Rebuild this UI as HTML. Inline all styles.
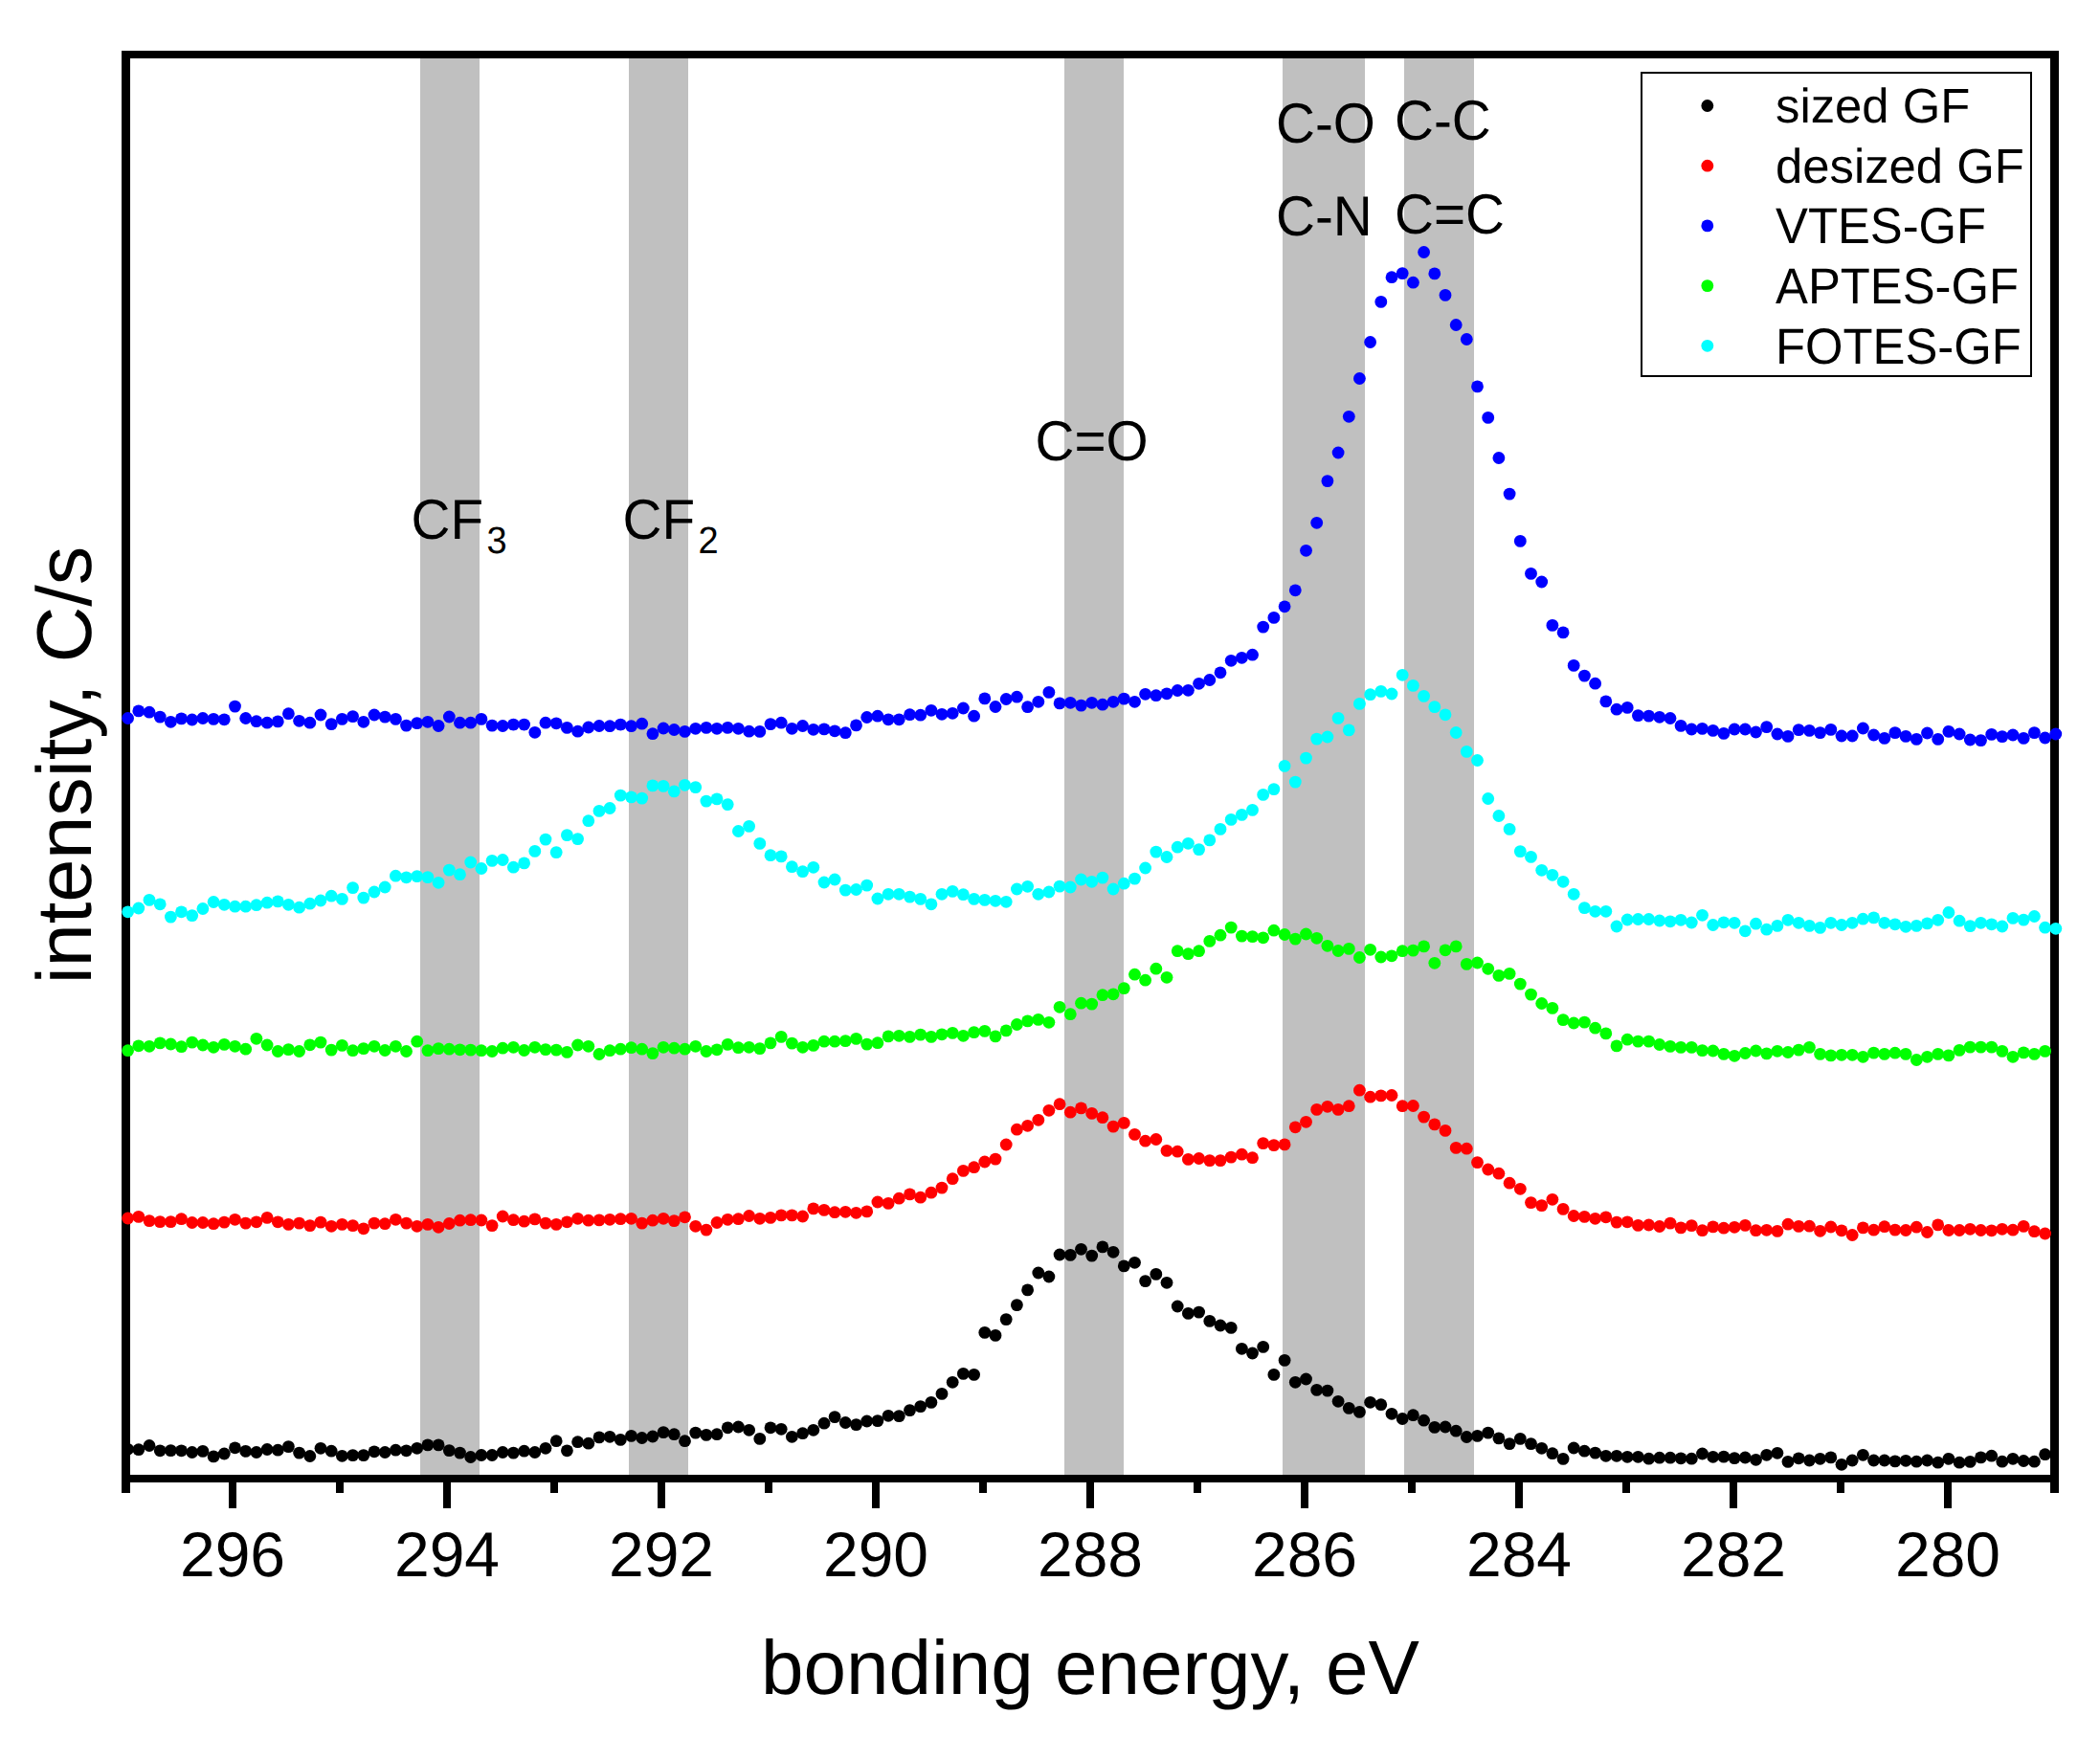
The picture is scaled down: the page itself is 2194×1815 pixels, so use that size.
<!DOCTYPE html>
<html><head><meta charset="utf-8"><title>XPS C1s spectra</title>
<style>html,body{margin:0;padding:0;background:#fff;}svg{display:block;}</style>
</head><body>
<svg width="2194" height="1815" viewBox="0 0 2194 1815" shape-rendering="crispEdges" text-rendering="geometricPrecision">
<rect x="0" y="0" width="2194" height="1815" fill="#ffffff"/>
<rect x="439" y="57" width="62" height="1488" fill="#c0c0c0"/>
<rect x="657" y="57" width="62" height="1488" fill="#c0c0c0"/>
<rect x="1112" y="57" width="62" height="1488" fill="#c0c0c0"/>
<rect x="1340" y="57" width="86" height="1488" fill="#c0c0c0"/>
<rect x="1467" y="57" width="73" height="1488" fill="#c0c0c0"/>
<g fill="#000000">
<rect x="127" y="53" width="2024" height="8"/>
<rect x="127" y="1541" width="2024" height="8"/>
<rect x="127" y="53" width="9" height="1507"/>
<rect x="2142" y="53" width="9" height="1507"/>
<rect x="239" y="1545" width="8" height="31"/>
<rect x="351" y="1545" width="8" height="15"/>
<rect x="463" y="1545" width="8" height="31"/>
<rect x="575" y="1545" width="8" height="15"/>
<rect x="687" y="1545" width="8" height="31"/>
<rect x="799" y="1545" width="8" height="15"/>
<rect x="911" y="1545" width="8" height="31"/>
<rect x="1023" y="1545" width="8" height="15"/>
<rect x="1135" y="1545" width="8" height="31"/>
<rect x="1247" y="1545" width="8" height="15"/>
<rect x="1359" y="1545" width="8" height="31"/>
<rect x="1471" y="1545" width="8" height="15"/>
<rect x="1583" y="1545" width="8" height="31"/>
<rect x="1695" y="1545" width="8" height="15"/>
<rect x="1807" y="1545" width="8" height="31"/>
<rect x="1919" y="1545" width="8" height="15"/>
<rect x="2031" y="1545" width="8" height="31"/>
</g>
<g font-family="'Liberation Sans', Arial, sans-serif" font-size="66" text-anchor="middle" fill="#000">
<text x="243" y="1647">296</text>
<text x="467" y="1647">294</text>
<text x="691" y="1647">292</text>
<text x="915" y="1647">290</text>
<text x="1139" y="1647">288</text>
<text x="1363" y="1647">286</text>
<text x="1587" y="1647">284</text>
<text x="1811" y="1647">282</text>
<text x="2035" y="1647">280</text>
</g>
<text x="1139" y="1770" font-family="'Liberation Sans', Arial, sans-serif" font-size="80" text-anchor="middle" fill="#000">bonding energy, eV</text>
<text transform="translate(94.5,799.5) rotate(-90)" font-family="'Liberation Sans', Arial, sans-serif" font-size="81" text-anchor="middle" fill="#000">intensity, C/s</text>
<g font-family="'Liberation Sans', Arial, sans-serif" font-size="56.7" fill="#000">
<text transform="translate(1333,149) scale(1,1.04)">C-O</text>
<text transform="translate(1333,246.3) scale(1,1.04)">C-N</text>
<text transform="translate(1457,146) scale(1,1.04)">C-C</text>
<text transform="translate(1457,244) scale(1,1.04)">C=C</text>
<text transform="translate(1081.5,481) scale(1,1.04)">C=O</text>
<text transform="translate(429.5,563) scale(1,1.04)">CF<tspan font-size="38" dx="3.5" dy="14.5">3</tspan></text>
<text transform="translate(650.5,563) scale(1,1.04)">CF<tspan font-size="38" dx="3.5" dy="14.5">2</tspan></text>
</g>
<g shape-rendering="geometricPrecision">
<g fill="#000000">
<circle cx="133.6" cy="1514.3" r="6.4"/>
<circle cx="144.8" cy="1514.7" r="6.4"/>
<circle cx="156.0" cy="1510.5" r="6.4"/>
<circle cx="167.2" cy="1515.8" r="6.4"/>
<circle cx="178.4" cy="1515.6" r="6.4"/>
<circle cx="189.5" cy="1515.8" r="6.4"/>
<circle cx="200.7" cy="1517.5" r="6.4"/>
<circle cx="211.9" cy="1516.4" r="6.4"/>
<circle cx="223.1" cy="1521.9" r="6.4"/>
<circle cx="234.3" cy="1519.0" r="6.4"/>
<circle cx="245.5" cy="1512.8" r="6.4"/>
<circle cx="256.7" cy="1516.4" r="6.4"/>
<circle cx="267.9" cy="1517.5" r="6.4"/>
<circle cx="279.1" cy="1514.5" r="6.4"/>
<circle cx="290.3" cy="1515.2" r="6.4"/>
<circle cx="301.4" cy="1511.6" r="6.4"/>
<circle cx="312.6" cy="1518.1" r="6.4"/>
<circle cx="323.8" cy="1521.5" r="6.4"/>
<circle cx="335.0" cy="1513.3" r="6.4"/>
<circle cx="346.2" cy="1516.2" r="6.4"/>
<circle cx="357.4" cy="1521.3" r="6.4"/>
<circle cx="368.6" cy="1520.6" r="6.4"/>
<circle cx="379.8" cy="1520.6" r="6.4"/>
<circle cx="391.0" cy="1516.8" r="6.4"/>
<circle cx="402.2" cy="1517.5" r="6.4"/>
<circle cx="413.4" cy="1515.2" r="6.4"/>
<circle cx="424.5" cy="1515.8" r="6.4"/>
<circle cx="435.7" cy="1513.3" r="6.4"/>
<circle cx="446.9" cy="1509.9" r="6.4"/>
<circle cx="458.1" cy="1509.9" r="6.4"/>
<circle cx="469.3" cy="1515.6" r="6.4"/>
<circle cx="480.5" cy="1518.1" r="6.4"/>
<circle cx="491.7" cy="1522.5" r="6.4"/>
<circle cx="502.9" cy="1520.5" r="6.4"/>
<circle cx="514.1" cy="1520.5" r="6.4"/>
<circle cx="525.2" cy="1517.5" r="6.4"/>
<circle cx="536.4" cy="1518.1" r="6.4"/>
<circle cx="547.6" cy="1516.2" r="6.4"/>
<circle cx="558.8" cy="1517.5" r="6.4"/>
<circle cx="570.0" cy="1513.3" r="6.4"/>
<circle cx="581.2" cy="1505.7" r="6.4"/>
<circle cx="592.4" cy="1515.8" r="6.4"/>
<circle cx="603.6" cy="1506.7" r="6.4"/>
<circle cx="614.8" cy="1508.2" r="6.4"/>
<circle cx="626.0" cy="1501.9" r="6.4"/>
<circle cx="637.1" cy="1501.3" r="6.4"/>
<circle cx="648.3" cy="1504.4" r="6.4"/>
<circle cx="659.5" cy="1500.4" r="6.4"/>
<circle cx="670.7" cy="1502.5" r="6.4"/>
<circle cx="681.9" cy="1501.0" r="6.4"/>
<circle cx="693.1" cy="1496.6" r="6.4"/>
<circle cx="704.3" cy="1498.7" r="6.4"/>
<circle cx="715.5" cy="1505.7" r="6.4"/>
<circle cx="726.7" cy="1497.1" r="6.4"/>
<circle cx="737.9" cy="1499.4" r="6.4"/>
<circle cx="749.0" cy="1498.7" r="6.4"/>
<circle cx="760.2" cy="1491.8" r="6.4"/>
<circle cx="771.4" cy="1491.0" r="6.4"/>
<circle cx="782.6" cy="1494.3" r="6.4"/>
<circle cx="793.8" cy="1503.4" r="6.4"/>
<circle cx="805.0" cy="1491.8" r="6.4"/>
<circle cx="816.2" cy="1493.3" r="6.4"/>
<circle cx="827.4" cy="1501.3" r="6.4"/>
<circle cx="838.6" cy="1497.7" r="6.4"/>
<circle cx="849.8" cy="1494.3" r="6.4"/>
<circle cx="861.0" cy="1487.2" r="6.4"/>
<circle cx="872.1" cy="1480.6" r="6.4"/>
<circle cx="883.3" cy="1486.5" r="6.4"/>
<circle cx="894.5" cy="1488.6" r="6.4"/>
<circle cx="905.7" cy="1485.0" r="6.4"/>
<circle cx="916.9" cy="1484.6" r="6.4"/>
<circle cx="928.1" cy="1479.3" r="6.4"/>
<circle cx="939.3" cy="1479.6" r="6.4"/>
<circle cx="950.5" cy="1473.6" r="6.4"/>
<circle cx="961.7" cy="1469.6" r="6.4"/>
<circle cx="972.9" cy="1465.4" r="6.4"/>
<circle cx="984.0" cy="1456.4" r="6.4"/>
<circle cx="995.2" cy="1444.3" r="6.4"/>
<circle cx="1006.4" cy="1435.4" r="6.4"/>
<circle cx="1017.6" cy="1436.4" r="6.4"/>
<circle cx="1028.8" cy="1392.4" r="6.4"/>
<circle cx="1040.0" cy="1395.4" r="6.4"/>
<circle cx="1051.2" cy="1378.6" r="6.4"/>
<circle cx="1062.4" cy="1363.6" r="6.4"/>
<circle cx="1073.6" cy="1347.9" r="6.4"/>
<circle cx="1084.8" cy="1330.0" r="6.4"/>
<circle cx="1095.9" cy="1334.0" r="6.4"/>
<circle cx="1107.1" cy="1311.0" r="6.4"/>
<circle cx="1118.3" cy="1311.4" r="6.4"/>
<circle cx="1129.5" cy="1305.3" r="6.4"/>
<circle cx="1140.7" cy="1312.1" r="6.4"/>
<circle cx="1151.9" cy="1302.9" r="6.4"/>
<circle cx="1163.1" cy="1308.3" r="6.4"/>
<circle cx="1174.3" cy="1322.9" r="6.4"/>
<circle cx="1185.5" cy="1319.3" r="6.4"/>
<circle cx="1196.6" cy="1338.6" r="6.4"/>
<circle cx="1207.8" cy="1331.4" r="6.4"/>
<circle cx="1219.0" cy="1340.3" r="6.4"/>
<circle cx="1230.2" cy="1365.0" r="6.4"/>
<circle cx="1241.4" cy="1372.4" r="6.4"/>
<circle cx="1252.6" cy="1371.1" r="6.4"/>
<circle cx="1263.8" cy="1380.4" r="6.4"/>
<circle cx="1275.0" cy="1385.0" r="6.4"/>
<circle cx="1286.2" cy="1387.4" r="6.4"/>
<circle cx="1297.4" cy="1409.3" r="6.4"/>
<circle cx="1308.5" cy="1414.0" r="6.4"/>
<circle cx="1319.7" cy="1407.4" r="6.4"/>
<circle cx="1330.9" cy="1436.4" r="6.4"/>
<circle cx="1342.1" cy="1421.4" r="6.4"/>
<circle cx="1353.3" cy="1444.3" r="6.4"/>
<circle cx="1364.5" cy="1441.0" r="6.4"/>
<circle cx="1375.7" cy="1452.4" r="6.4"/>
<circle cx="1386.9" cy="1453.1" r="6.4"/>
<circle cx="1398.1" cy="1464.3" r="6.4"/>
<circle cx="1409.3" cy="1471.4" r="6.4"/>
<circle cx="1420.4" cy="1475.4" r="6.4"/>
<circle cx="1431.6" cy="1465.3" r="6.4"/>
<circle cx="1442.8" cy="1467.7" r="6.4"/>
<circle cx="1454.0" cy="1477.3" r="6.4"/>
<circle cx="1465.2" cy="1482.5" r="6.4"/>
<circle cx="1476.4" cy="1478.7" r="6.4"/>
<circle cx="1487.6" cy="1484.2" r="6.4"/>
<circle cx="1498.8" cy="1491.4" r="6.4"/>
<circle cx="1510.0" cy="1491.0" r="6.4"/>
<circle cx="1521.2" cy="1495.2" r="6.4"/>
<circle cx="1532.3" cy="1501.5" r="6.4"/>
<circle cx="1543.5" cy="1500.4" r="6.4"/>
<circle cx="1554.7" cy="1497.1" r="6.4"/>
<circle cx="1565.9" cy="1502.9" r="6.4"/>
<circle cx="1577.1" cy="1508.6" r="6.4"/>
<circle cx="1588.3" cy="1503.4" r="6.4"/>
<circle cx="1599.5" cy="1508.6" r="6.4"/>
<circle cx="1610.7" cy="1513.3" r="6.4"/>
<circle cx="1621.9" cy="1518.7" r="6.4"/>
<circle cx="1633.1" cy="1524.4" r="6.4"/>
<circle cx="1644.2" cy="1513.0" r="6.4"/>
<circle cx="1655.4" cy="1516.2" r="6.4"/>
<circle cx="1666.6" cy="1518.1" r="6.4"/>
<circle cx="1677.8" cy="1521.3" r="6.4"/>
<circle cx="1689.0" cy="1521.3" r="6.4"/>
<circle cx="1700.2" cy="1522.3" r="6.4"/>
<circle cx="1711.4" cy="1522.3" r="6.4"/>
<circle cx="1722.6" cy="1524.2" r="6.4"/>
<circle cx="1733.8" cy="1523.2" r="6.4"/>
<circle cx="1745.0" cy="1523.2" r="6.4"/>
<circle cx="1756.1" cy="1523.8" r="6.4"/>
<circle cx="1767.3" cy="1524.2" r="6.4"/>
<circle cx="1778.5" cy="1519.0" r="6.4"/>
<circle cx="1789.7" cy="1522.3" r="6.4"/>
<circle cx="1800.9" cy="1522.1" r="6.4"/>
<circle cx="1812.1" cy="1523.6" r="6.4"/>
<circle cx="1823.3" cy="1523.0" r="6.4"/>
<circle cx="1834.5" cy="1525.3" r="6.4"/>
<circle cx="1845.7" cy="1520.3" r="6.4"/>
<circle cx="1856.9" cy="1518.3" r="6.4"/>
<circle cx="1868.0" cy="1527.4" r="6.4"/>
<circle cx="1879.2" cy="1523.8" r="6.4"/>
<circle cx="1890.4" cy="1526.0" r="6.4"/>
<circle cx="1901.6" cy="1524.3" r="6.4"/>
<circle cx="1912.8" cy="1522.9" r="6.4"/>
<circle cx="1924.0" cy="1530.3" r="6.4"/>
<circle cx="1935.2" cy="1526.0" r="6.4"/>
<circle cx="1946.4" cy="1520.3" r="6.4"/>
<circle cx="1957.6" cy="1526.0" r="6.4"/>
<circle cx="1968.8" cy="1526.0" r="6.4"/>
<circle cx="1979.9" cy="1526.9" r="6.4"/>
<circle cx="1991.1" cy="1526.3" r="6.4"/>
<circle cx="2002.3" cy="1527.2" r="6.4"/>
<circle cx="2013.5" cy="1526.0" r="6.4"/>
<circle cx="2024.7" cy="1528.2" r="6.4"/>
<circle cx="2035.9" cy="1524.3" r="6.4"/>
<circle cx="2047.1" cy="1528.2" r="6.4"/>
<circle cx="2058.3" cy="1527.4" r="6.4"/>
<circle cx="2069.5" cy="1522.9" r="6.4"/>
<circle cx="2080.7" cy="1521.2" r="6.4"/>
<circle cx="2091.8" cy="1527.2" r="6.4"/>
<circle cx="2103.0" cy="1524.3" r="6.4"/>
<circle cx="2114.2" cy="1526.5" r="6.4"/>
<circle cx="2125.4" cy="1527.2" r="6.4"/>
<circle cx="2136.6" cy="1519.7" r="6.4"/>
</g>
<g fill="#ff0000">
<circle cx="133.6" cy="1273.0" r="6.4"/>
<circle cx="144.8" cy="1271.4" r="6.4"/>
<circle cx="156.0" cy="1275.6" r="6.4"/>
<circle cx="167.2" cy="1276.6" r="6.4"/>
<circle cx="178.4" cy="1276.6" r="6.4"/>
<circle cx="189.5" cy="1273.7" r="6.4"/>
<circle cx="200.7" cy="1277.5" r="6.4"/>
<circle cx="211.9" cy="1277.5" r="6.4"/>
<circle cx="223.1" cy="1278.7" r="6.4"/>
<circle cx="234.3" cy="1277.1" r="6.4"/>
<circle cx="245.5" cy="1274.3" r="6.4"/>
<circle cx="256.7" cy="1278.1" r="6.4"/>
<circle cx="267.9" cy="1276.8" r="6.4"/>
<circle cx="279.1" cy="1272.4" r="6.4"/>
<circle cx="290.3" cy="1276.8" r="6.4"/>
<circle cx="301.4" cy="1279.4" r="6.4"/>
<circle cx="312.6" cy="1278.1" r="6.4"/>
<circle cx="323.8" cy="1280.6" r="6.4"/>
<circle cx="335.0" cy="1277.1" r="6.4"/>
<circle cx="346.2" cy="1281.3" r="6.4"/>
<circle cx="357.4" cy="1279.4" r="6.4"/>
<circle cx="368.6" cy="1280.6" r="6.4"/>
<circle cx="379.8" cy="1283.8" r="6.4"/>
<circle cx="391.0" cy="1278.1" r="6.4"/>
<circle cx="402.2" cy="1278.7" r="6.4"/>
<circle cx="413.4" cy="1274.3" r="6.4"/>
<circle cx="424.5" cy="1278.1" r="6.4"/>
<circle cx="435.7" cy="1281.3" r="6.4"/>
<circle cx="446.9" cy="1279.4" r="6.4"/>
<circle cx="458.1" cy="1282.3" r="6.4"/>
<circle cx="469.3" cy="1278.5" r="6.4"/>
<circle cx="480.5" cy="1275.2" r="6.4"/>
<circle cx="491.7" cy="1274.7" r="6.4"/>
<circle cx="502.9" cy="1275.0" r="6.4"/>
<circle cx="514.1" cy="1280.6" r="6.4"/>
<circle cx="525.2" cy="1271.0" r="6.4"/>
<circle cx="536.4" cy="1274.7" r="6.4"/>
<circle cx="547.6" cy="1276.2" r="6.4"/>
<circle cx="558.8" cy="1273.9" r="6.4"/>
<circle cx="570.0" cy="1278.1" r="6.4"/>
<circle cx="581.2" cy="1279.4" r="6.4"/>
<circle cx="592.4" cy="1276.8" r="6.4"/>
<circle cx="603.6" cy="1273.3" r="6.4"/>
<circle cx="614.8" cy="1275.2" r="6.4"/>
<circle cx="626.0" cy="1274.9" r="6.4"/>
<circle cx="637.1" cy="1274.3" r="6.4"/>
<circle cx="648.3" cy="1273.7" r="6.4"/>
<circle cx="659.5" cy="1273.3" r="6.4"/>
<circle cx="670.7" cy="1278.1" r="6.4"/>
<circle cx="681.9" cy="1275.2" r="6.4"/>
<circle cx="693.1" cy="1273.3" r="6.4"/>
<circle cx="704.3" cy="1275.6" r="6.4"/>
<circle cx="715.5" cy="1271.8" r="6.4"/>
<circle cx="726.7" cy="1281.3" r="6.4"/>
<circle cx="737.9" cy="1285.1" r="6.4"/>
<circle cx="749.0" cy="1277.5" r="6.4"/>
<circle cx="760.2" cy="1274.3" r="6.4"/>
<circle cx="771.4" cy="1273.7" r="6.4"/>
<circle cx="782.6" cy="1270.5" r="6.4"/>
<circle cx="793.8" cy="1273.3" r="6.4"/>
<circle cx="805.0" cy="1272.4" r="6.4"/>
<circle cx="816.2" cy="1269.9" r="6.4"/>
<circle cx="827.4" cy="1269.9" r="6.4"/>
<circle cx="838.6" cy="1271.0" r="6.4"/>
<circle cx="849.8" cy="1262.9" r="6.4"/>
<circle cx="861.0" cy="1264.4" r="6.4"/>
<circle cx="872.1" cy="1266.7" r="6.4"/>
<circle cx="883.3" cy="1266.3" r="6.4"/>
<circle cx="894.5" cy="1267.3" r="6.4"/>
<circle cx="905.7" cy="1265.9" r="6.4"/>
<circle cx="916.9" cy="1256.0" r="6.4"/>
<circle cx="928.1" cy="1257.4" r="6.4"/>
<circle cx="939.3" cy="1252.2" r="6.4"/>
<circle cx="950.5" cy="1247.9" r="6.4"/>
<circle cx="961.7" cy="1251.2" r="6.4"/>
<circle cx="972.9" cy="1246.2" r="6.4"/>
<circle cx="984.0" cy="1241.1" r="6.4"/>
<circle cx="995.2" cy="1231.7" r="6.4"/>
<circle cx="1006.4" cy="1223.4" r="6.4"/>
<circle cx="1017.6" cy="1219.7" r="6.4"/>
<circle cx="1028.8" cy="1214.0" r="6.4"/>
<circle cx="1040.0" cy="1211.1" r="6.4"/>
<circle cx="1051.2" cy="1196.0" r="6.4"/>
<circle cx="1062.4" cy="1180.2" r="6.4"/>
<circle cx="1073.6" cy="1176.3" r="6.4"/>
<circle cx="1084.8" cy="1170.3" r="6.4"/>
<circle cx="1095.9" cy="1160.3" r="6.4"/>
<circle cx="1107.1" cy="1153.7" r="6.4"/>
<circle cx="1118.3" cy="1162.2" r="6.4"/>
<circle cx="1129.5" cy="1157.9" r="6.4"/>
<circle cx="1140.7" cy="1163.4" r="6.4"/>
<circle cx="1151.9" cy="1167.7" r="6.4"/>
<circle cx="1163.1" cy="1177.1" r="6.4"/>
<circle cx="1174.3" cy="1173.4" r="6.4"/>
<circle cx="1185.5" cy="1185.4" r="6.4"/>
<circle cx="1196.6" cy="1192.2" r="6.4"/>
<circle cx="1207.8" cy="1190.5" r="6.4"/>
<circle cx="1219.0" cy="1202.4" r="6.4"/>
<circle cx="1230.2" cy="1203.2" r="6.4"/>
<circle cx="1241.4" cy="1211.4" r="6.4"/>
<circle cx="1252.6" cy="1210.5" r="6.4"/>
<circle cx="1263.8" cy="1212.6" r="6.4"/>
<circle cx="1275.0" cy="1212.6" r="6.4"/>
<circle cx="1286.2" cy="1209.1" r="6.4"/>
<circle cx="1297.4" cy="1206.2" r="6.4"/>
<circle cx="1308.5" cy="1209.7" r="6.4"/>
<circle cx="1319.7" cy="1194.6" r="6.4"/>
<circle cx="1330.9" cy="1196.6" r="6.4"/>
<circle cx="1342.1" cy="1195.9" r="6.4"/>
<circle cx="1353.3" cy="1177.8" r="6.4"/>
<circle cx="1364.5" cy="1172.3" r="6.4"/>
<circle cx="1375.7" cy="1159.4" r="6.4"/>
<circle cx="1386.9" cy="1156.3" r="6.4"/>
<circle cx="1398.1" cy="1159.4" r="6.4"/>
<circle cx="1409.3" cy="1155.7" r="6.4"/>
<circle cx="1420.4" cy="1139.2" r="6.4"/>
<circle cx="1431.6" cy="1146.2" r="6.4"/>
<circle cx="1442.8" cy="1144.9" r="6.4"/>
<circle cx="1454.0" cy="1144.5" r="6.4"/>
<circle cx="1465.2" cy="1155.7" r="6.4"/>
<circle cx="1476.4" cy="1155.5" r="6.4"/>
<circle cx="1487.6" cy="1167.1" r="6.4"/>
<circle cx="1498.8" cy="1174.9" r="6.4"/>
<circle cx="1510.0" cy="1181.4" r="6.4"/>
<circle cx="1521.2" cy="1199.4" r="6.4"/>
<circle cx="1532.3" cy="1200.2" r="6.4"/>
<circle cx="1543.5" cy="1214.6" r="6.4"/>
<circle cx="1554.7" cy="1222.0" r="6.4"/>
<circle cx="1565.9" cy="1226.2" r="6.4"/>
<circle cx="1577.1" cy="1236.2" r="6.4"/>
<circle cx="1588.3" cy="1242.3" r="6.4"/>
<circle cx="1599.5" cy="1256.6" r="6.4"/>
<circle cx="1610.7" cy="1259.6" r="6.4"/>
<circle cx="1621.9" cy="1253.3" r="6.4"/>
<circle cx="1633.1" cy="1263.4" r="6.4"/>
<circle cx="1644.2" cy="1270.5" r="6.4"/>
<circle cx="1655.4" cy="1271.4" r="6.4"/>
<circle cx="1666.6" cy="1273.3" r="6.4"/>
<circle cx="1677.8" cy="1271.8" r="6.4"/>
<circle cx="1689.0" cy="1277.1" r="6.4"/>
<circle cx="1700.2" cy="1276.8" r="6.4"/>
<circle cx="1711.4" cy="1280.4" r="6.4"/>
<circle cx="1722.6" cy="1280.0" r="6.4"/>
<circle cx="1733.8" cy="1281.5" r="6.4"/>
<circle cx="1745.0" cy="1278.1" r="6.4"/>
<circle cx="1756.1" cy="1282.9" r="6.4"/>
<circle cx="1767.3" cy="1280.6" r="6.4"/>
<circle cx="1778.5" cy="1285.7" r="6.4"/>
<circle cx="1789.7" cy="1281.9" r="6.4"/>
<circle cx="1800.9" cy="1283.2" r="6.4"/>
<circle cx="1812.1" cy="1282.3" r="6.4"/>
<circle cx="1823.3" cy="1280.4" r="6.4"/>
<circle cx="1834.5" cy="1285.7" r="6.4"/>
<circle cx="1845.7" cy="1285.3" r="6.4"/>
<circle cx="1856.9" cy="1286.4" r="6.4"/>
<circle cx="1868.0" cy="1279.2" r="6.4"/>
<circle cx="1879.2" cy="1281.4" r="6.4"/>
<circle cx="1890.4" cy="1281.2" r="6.4"/>
<circle cx="1901.6" cy="1286.3" r="6.4"/>
<circle cx="1912.8" cy="1282.0" r="6.4"/>
<circle cx="1924.0" cy="1285.8" r="6.4"/>
<circle cx="1935.2" cy="1290.5" r="6.4"/>
<circle cx="1946.4" cy="1282.9" r="6.4"/>
<circle cx="1957.6" cy="1285.2" r="6.4"/>
<circle cx="1968.8" cy="1281.7" r="6.4"/>
<circle cx="1979.9" cy="1285.1" r="6.4"/>
<circle cx="1991.1" cy="1285.5" r="6.4"/>
<circle cx="2002.3" cy="1282.2" r="6.4"/>
<circle cx="2013.5" cy="1287.5" r="6.4"/>
<circle cx="2024.7" cy="1279.9" r="6.4"/>
<circle cx="2035.9" cy="1285.5" r="6.4"/>
<circle cx="2047.1" cy="1285.5" r="6.4"/>
<circle cx="2058.3" cy="1284.3" r="6.4"/>
<circle cx="2069.5" cy="1285.5" r="6.4"/>
<circle cx="2080.7" cy="1285.8" r="6.4"/>
<circle cx="2091.8" cy="1284.3" r="6.4"/>
<circle cx="2103.0" cy="1285.2" r="6.4"/>
<circle cx="2114.2" cy="1281.4" r="6.4"/>
<circle cx="2125.4" cy="1286.7" r="6.4"/>
<circle cx="2136.6" cy="1289.0" r="6.4"/>
</g>
<g fill="#00ff00">
<circle cx="133.6" cy="1097.7" r="6.4"/>
<circle cx="144.8" cy="1092.8" r="6.4"/>
<circle cx="156.0" cy="1093.3" r="6.4"/>
<circle cx="167.2" cy="1089.9" r="6.4"/>
<circle cx="178.4" cy="1091.0" r="6.4"/>
<circle cx="189.5" cy="1093.7" r="6.4"/>
<circle cx="200.7" cy="1089.1" r="6.4"/>
<circle cx="211.9" cy="1092.0" r="6.4"/>
<circle cx="223.1" cy="1094.3" r="6.4"/>
<circle cx="234.3" cy="1091.4" r="6.4"/>
<circle cx="245.5" cy="1093.3" r="6.4"/>
<circle cx="256.7" cy="1096.2" r="6.4"/>
<circle cx="267.9" cy="1085.3" r="6.4"/>
<circle cx="279.1" cy="1092.0" r="6.4"/>
<circle cx="290.3" cy="1098.5" r="6.4"/>
<circle cx="301.4" cy="1096.6" r="6.4"/>
<circle cx="312.6" cy="1098.5" r="6.4"/>
<circle cx="323.8" cy="1091.8" r="6.4"/>
<circle cx="335.0" cy="1089.1" r="6.4"/>
<circle cx="346.2" cy="1097.1" r="6.4"/>
<circle cx="357.4" cy="1092.4" r="6.4"/>
<circle cx="368.6" cy="1097.7" r="6.4"/>
<circle cx="379.8" cy="1095.6" r="6.4"/>
<circle cx="391.0" cy="1093.3" r="6.4"/>
<circle cx="402.2" cy="1097.5" r="6.4"/>
<circle cx="413.4" cy="1093.3" r="6.4"/>
<circle cx="424.5" cy="1098.5" r="6.4"/>
<circle cx="435.7" cy="1088.2" r="6.4"/>
<circle cx="446.9" cy="1097.7" r="6.4"/>
<circle cx="458.1" cy="1095.6" r="6.4"/>
<circle cx="469.3" cy="1096.2" r="6.4"/>
<circle cx="480.5" cy="1096.8" r="6.4"/>
<circle cx="491.7" cy="1097.1" r="6.4"/>
<circle cx="502.9" cy="1097.7" r="6.4"/>
<circle cx="514.1" cy="1098.5" r="6.4"/>
<circle cx="525.2" cy="1095.2" r="6.4"/>
<circle cx="536.4" cy="1094.3" r="6.4"/>
<circle cx="547.6" cy="1097.5" r="6.4"/>
<circle cx="558.8" cy="1094.3" r="6.4"/>
<circle cx="570.0" cy="1096.6" r="6.4"/>
<circle cx="581.2" cy="1097.1" r="6.4"/>
<circle cx="592.4" cy="1099.4" r="6.4"/>
<circle cx="603.6" cy="1092.0" r="6.4"/>
<circle cx="614.8" cy="1093.3" r="6.4"/>
<circle cx="626.0" cy="1101.5" r="6.4"/>
<circle cx="637.1" cy="1097.7" r="6.4"/>
<circle cx="648.3" cy="1096.2" r="6.4"/>
<circle cx="659.5" cy="1094.7" r="6.4"/>
<circle cx="670.7" cy="1096.2" r="6.4"/>
<circle cx="681.9" cy="1100.6" r="6.4"/>
<circle cx="693.1" cy="1094.3" r="6.4"/>
<circle cx="704.3" cy="1095.2" r="6.4"/>
<circle cx="715.5" cy="1096.2" r="6.4"/>
<circle cx="726.7" cy="1093.3" r="6.4"/>
<circle cx="737.9" cy="1098.5" r="6.4"/>
<circle cx="749.0" cy="1096.8" r="6.4"/>
<circle cx="760.2" cy="1091.4" r="6.4"/>
<circle cx="771.4" cy="1094.7" r="6.4"/>
<circle cx="782.6" cy="1094.3" r="6.4"/>
<circle cx="793.8" cy="1095.6" r="6.4"/>
<circle cx="805.0" cy="1089.9" r="6.4"/>
<circle cx="816.2" cy="1083.4" r="6.4"/>
<circle cx="827.4" cy="1090.1" r="6.4"/>
<circle cx="838.6" cy="1094.3" r="6.4"/>
<circle cx="849.8" cy="1092.4" r="6.4"/>
<circle cx="861.0" cy="1088.2" r="6.4"/>
<circle cx="872.1" cy="1088.2" r="6.4"/>
<circle cx="883.3" cy="1087.6" r="6.4"/>
<circle cx="894.5" cy="1085.4" r="6.4"/>
<circle cx="905.7" cy="1091.1" r="6.4"/>
<circle cx="916.9" cy="1089.7" r="6.4"/>
<circle cx="928.1" cy="1082.9" r="6.4"/>
<circle cx="939.3" cy="1082.3" r="6.4"/>
<circle cx="950.5" cy="1083.4" r="6.4"/>
<circle cx="961.7" cy="1081.1" r="6.4"/>
<circle cx="972.9" cy="1083.4" r="6.4"/>
<circle cx="984.0" cy="1080.8" r="6.4"/>
<circle cx="995.2" cy="1079.4" r="6.4"/>
<circle cx="1006.4" cy="1082.3" r="6.4"/>
<circle cx="1017.6" cy="1078.6" r="6.4"/>
<circle cx="1028.8" cy="1077.4" r="6.4"/>
<circle cx="1040.0" cy="1082.9" r="6.4"/>
<circle cx="1051.2" cy="1076.9" r="6.4"/>
<circle cx="1062.4" cy="1070.5" r="6.4"/>
<circle cx="1073.6" cy="1066.9" r="6.4"/>
<circle cx="1084.8" cy="1065.4" r="6.4"/>
<circle cx="1095.9" cy="1068.3" r="6.4"/>
<circle cx="1107.1" cy="1052.3" r="6.4"/>
<circle cx="1118.3" cy="1059.7" r="6.4"/>
<circle cx="1129.5" cy="1048.2" r="6.4"/>
<circle cx="1140.7" cy="1049.1" r="6.4"/>
<circle cx="1151.9" cy="1039.7" r="6.4"/>
<circle cx="1163.1" cy="1038.8" r="6.4"/>
<circle cx="1174.3" cy="1032.6" r="6.4"/>
<circle cx="1185.5" cy="1018.2" r="6.4"/>
<circle cx="1196.6" cy="1024.2" r="6.4"/>
<circle cx="1207.8" cy="1012.2" r="6.4"/>
<circle cx="1219.0" cy="1021.3" r="6.4"/>
<circle cx="1230.2" cy="993.7" r="6.4"/>
<circle cx="1241.4" cy="996.7" r="6.4"/>
<circle cx="1252.6" cy="993.7" r="6.4"/>
<circle cx="1263.8" cy="983.4" r="6.4"/>
<circle cx="1275.0" cy="977.2" r="6.4"/>
<circle cx="1286.2" cy="969.1" r="6.4"/>
<circle cx="1297.4" cy="978.1" r="6.4"/>
<circle cx="1308.5" cy="978.6" r="6.4"/>
<circle cx="1319.7" cy="979.8" r="6.4"/>
<circle cx="1330.9" cy="972.2" r="6.4"/>
<circle cx="1342.1" cy="976.5" r="6.4"/>
<circle cx="1353.3" cy="981.1" r="6.4"/>
<circle cx="1364.5" cy="976.0" r="6.4"/>
<circle cx="1375.7" cy="980.3" r="6.4"/>
<circle cx="1386.9" cy="988.3" r="6.4"/>
<circle cx="1398.1" cy="993.5" r="6.4"/>
<circle cx="1409.3" cy="991.4" r="6.4"/>
<circle cx="1420.4" cy="1000.5" r="6.4"/>
<circle cx="1431.6" cy="992.3" r="6.4"/>
<circle cx="1442.8" cy="1000.0" r="6.4"/>
<circle cx="1454.0" cy="998.8" r="6.4"/>
<circle cx="1465.2" cy="993.7" r="6.4"/>
<circle cx="1476.4" cy="993.1" r="6.4"/>
<circle cx="1487.6" cy="988.9" r="6.4"/>
<circle cx="1498.8" cy="1006.3" r="6.4"/>
<circle cx="1510.0" cy="992.8" r="6.4"/>
<circle cx="1521.2" cy="988.9" r="6.4"/>
<circle cx="1532.3" cy="1007.4" r="6.4"/>
<circle cx="1543.5" cy="1006.0" r="6.4"/>
<circle cx="1554.7" cy="1012.3" r="6.4"/>
<circle cx="1565.9" cy="1019.4" r="6.4"/>
<circle cx="1577.1" cy="1017.4" r="6.4"/>
<circle cx="1588.3" cy="1028.1" r="6.4"/>
<circle cx="1599.5" cy="1039.1" r="6.4"/>
<circle cx="1610.7" cy="1048.5" r="6.4"/>
<circle cx="1621.9" cy="1053.4" r="6.4"/>
<circle cx="1633.1" cy="1065.6" r="6.4"/>
<circle cx="1644.2" cy="1069.0" r="6.4"/>
<circle cx="1655.4" cy="1068.1" r="6.4"/>
<circle cx="1666.6" cy="1074.2" r="6.4"/>
<circle cx="1677.8" cy="1079.9" r="6.4"/>
<circle cx="1689.0" cy="1092.9" r="6.4"/>
<circle cx="1700.2" cy="1086.2" r="6.4"/>
<circle cx="1711.4" cy="1088.1" r="6.4"/>
<circle cx="1722.6" cy="1088.1" r="6.4"/>
<circle cx="1733.8" cy="1091.5" r="6.4"/>
<circle cx="1745.0" cy="1093.4" r="6.4"/>
<circle cx="1756.1" cy="1094.4" r="6.4"/>
<circle cx="1767.3" cy="1094.4" r="6.4"/>
<circle cx="1778.5" cy="1097.6" r="6.4"/>
<circle cx="1789.7" cy="1098.0" r="6.4"/>
<circle cx="1800.9" cy="1101.4" r="6.4"/>
<circle cx="1812.1" cy="1103.3" r="6.4"/>
<circle cx="1823.3" cy="1100.5" r="6.4"/>
<circle cx="1834.5" cy="1098.0" r="6.4"/>
<circle cx="1845.7" cy="1100.9" r="6.4"/>
<circle cx="1856.9" cy="1098.3" r="6.4"/>
<circle cx="1868.0" cy="1099.5" r="6.4"/>
<circle cx="1879.2" cy="1097.1" r="6.4"/>
<circle cx="1890.4" cy="1094.4" r="6.4"/>
<circle cx="1901.6" cy="1101.4" r="6.4"/>
<circle cx="1912.8" cy="1102.9" r="6.4"/>
<circle cx="1924.0" cy="1102.3" r="6.4"/>
<circle cx="1935.2" cy="1102.3" r="6.4"/>
<circle cx="1946.4" cy="1104.3" r="6.4"/>
<circle cx="1957.6" cy="1100.1" r="6.4"/>
<circle cx="1968.8" cy="1101.4" r="6.4"/>
<circle cx="1979.9" cy="1100.2" r="6.4"/>
<circle cx="1991.1" cy="1101.4" r="6.4"/>
<circle cx="2002.3" cy="1107.5" r="6.4"/>
<circle cx="2013.5" cy="1104.3" r="6.4"/>
<circle cx="2024.7" cy="1101.4" r="6.4"/>
<circle cx="2035.9" cy="1102.9" r="6.4"/>
<circle cx="2047.1" cy="1097.4" r="6.4"/>
<circle cx="2058.3" cy="1094.1" r="6.4"/>
<circle cx="2069.5" cy="1094.1" r="6.4"/>
<circle cx="2080.7" cy="1094.1" r="6.4"/>
<circle cx="2091.8" cy="1098.4" r="6.4"/>
<circle cx="2103.0" cy="1104.3" r="6.4"/>
<circle cx="2114.2" cy="1099.9" r="6.4"/>
<circle cx="2125.4" cy="1101.4" r="6.4"/>
<circle cx="2136.6" cy="1098.4" r="6.4"/>
</g>
<g fill="#00ffff">
<circle cx="133.6" cy="952.8" r="6.4"/>
<circle cx="144.8" cy="949.0" r="6.4"/>
<circle cx="156.0" cy="940.4" r="6.4"/>
<circle cx="167.2" cy="944.8" r="6.4"/>
<circle cx="178.4" cy="958.1" r="6.4"/>
<circle cx="189.5" cy="952.8" r="6.4"/>
<circle cx="200.7" cy="956.6" r="6.4"/>
<circle cx="211.9" cy="949.5" r="6.4"/>
<circle cx="223.1" cy="942.5" r="6.4"/>
<circle cx="234.3" cy="945.3" r="6.4"/>
<circle cx="245.5" cy="947.2" r="6.4"/>
<circle cx="256.7" cy="947.2" r="6.4"/>
<circle cx="267.9" cy="945.7" r="6.4"/>
<circle cx="279.1" cy="943.2" r="6.4"/>
<circle cx="290.3" cy="941.9" r="6.4"/>
<circle cx="301.4" cy="945.3" r="6.4"/>
<circle cx="312.6" cy="948.2" r="6.4"/>
<circle cx="323.8" cy="944.2" r="6.4"/>
<circle cx="335.0" cy="941.0" r="6.4"/>
<circle cx="346.2" cy="936.2" r="6.4"/>
<circle cx="357.4" cy="939.4" r="6.4"/>
<circle cx="368.6" cy="927.6" r="6.4"/>
<circle cx="379.8" cy="938.1" r="6.4"/>
<circle cx="391.0" cy="932.0" r="6.4"/>
<circle cx="402.2" cy="927.0" r="6.4"/>
<circle cx="413.4" cy="915.2" r="6.4"/>
<circle cx="424.5" cy="916.8" r="6.4"/>
<circle cx="435.7" cy="915.6" r="6.4"/>
<circle cx="446.9" cy="916.6" r="6.4"/>
<circle cx="458.1" cy="922.3" r="6.4"/>
<circle cx="469.3" cy="909.1" r="6.4"/>
<circle cx="480.5" cy="913.7" r="6.4"/>
<circle cx="491.7" cy="901.0" r="6.4"/>
<circle cx="502.9" cy="907.5" r="6.4"/>
<circle cx="514.1" cy="899.4" r="6.4"/>
<circle cx="525.2" cy="898.5" r="6.4"/>
<circle cx="536.4" cy="906.2" r="6.4"/>
<circle cx="547.6" cy="901.9" r="6.4"/>
<circle cx="558.8" cy="889.4" r="6.4"/>
<circle cx="570.0" cy="877.1" r="6.4"/>
<circle cx="581.2" cy="890.6" r="6.4"/>
<circle cx="592.4" cy="872.6" r="6.4"/>
<circle cx="603.6" cy="876.6" r="6.4"/>
<circle cx="614.8" cy="857.7" r="6.4"/>
<circle cx="626.0" cy="847.4" r="6.4"/>
<circle cx="637.1" cy="844.5" r="6.4"/>
<circle cx="648.3" cy="831.1" r="6.4"/>
<circle cx="659.5" cy="832.9" r="6.4"/>
<circle cx="670.7" cy="834.1" r="6.4"/>
<circle cx="681.9" cy="820.9" r="6.4"/>
<circle cx="693.1" cy="821.4" r="6.4"/>
<circle cx="704.3" cy="826.9" r="6.4"/>
<circle cx="715.5" cy="820.3" r="6.4"/>
<circle cx="726.7" cy="822.6" r="6.4"/>
<circle cx="737.9" cy="837.1" r="6.4"/>
<circle cx="749.0" cy="834.9" r="6.4"/>
<circle cx="760.2" cy="840.6" r="6.4"/>
<circle cx="771.4" cy="868.5" r="6.4"/>
<circle cx="782.6" cy="863.4" r="6.4"/>
<circle cx="793.8" cy="881.4" r="6.4"/>
<circle cx="805.0" cy="893.7" r="6.4"/>
<circle cx="816.2" cy="894.9" r="6.4"/>
<circle cx="827.4" cy="905.7" r="6.4"/>
<circle cx="838.6" cy="910.7" r="6.4"/>
<circle cx="849.8" cy="906.3" r="6.4"/>
<circle cx="861.0" cy="922.0" r="6.4"/>
<circle cx="872.1" cy="919.0" r="6.4"/>
<circle cx="883.3" cy="930.1" r="6.4"/>
<circle cx="894.5" cy="929.5" r="6.4"/>
<circle cx="905.7" cy="925.1" r="6.4"/>
<circle cx="916.9" cy="939.0" r="6.4"/>
<circle cx="928.1" cy="934.3" r="6.4"/>
<circle cx="939.3" cy="934.3" r="6.4"/>
<circle cx="950.5" cy="937.1" r="6.4"/>
<circle cx="961.7" cy="939.4" r="6.4"/>
<circle cx="972.9" cy="944.8" r="6.4"/>
<circle cx="984.0" cy="934.3" r="6.4"/>
<circle cx="995.2" cy="931.4" r="6.4"/>
<circle cx="1006.4" cy="934.7" r="6.4"/>
<circle cx="1017.6" cy="939.4" r="6.4"/>
<circle cx="1028.8" cy="940.4" r="6.4"/>
<circle cx="1040.0" cy="941.3" r="6.4"/>
<circle cx="1051.2" cy="942.3" r="6.4"/>
<circle cx="1062.4" cy="929.0" r="6.4"/>
<circle cx="1073.6" cy="926.3" r="6.4"/>
<circle cx="1084.8" cy="934.3" r="6.4"/>
<circle cx="1095.9" cy="932.0" r="6.4"/>
<circle cx="1107.1" cy="926.1" r="6.4"/>
<circle cx="1118.3" cy="927.0" r="6.4"/>
<circle cx="1129.5" cy="919.0" r="6.4"/>
<circle cx="1140.7" cy="921.3" r="6.4"/>
<circle cx="1151.9" cy="917.1" r="6.4"/>
<circle cx="1163.1" cy="929.0" r="6.4"/>
<circle cx="1174.3" cy="923.2" r="6.4"/>
<circle cx="1185.5" cy="918.1" r="6.4"/>
<circle cx="1196.6" cy="907.0" r="6.4"/>
<circle cx="1207.8" cy="890.1" r="6.4"/>
<circle cx="1219.0" cy="895.5" r="6.4"/>
<circle cx="1230.2" cy="885.2" r="6.4"/>
<circle cx="1241.4" cy="881.3" r="6.4"/>
<circle cx="1252.6" cy="887.6" r="6.4"/>
<circle cx="1263.8" cy="877.9" r="6.4"/>
<circle cx="1275.0" cy="866.4" r="6.4"/>
<circle cx="1286.2" cy="856.4" r="6.4"/>
<circle cx="1297.4" cy="851.4" r="6.4"/>
<circle cx="1308.5" cy="846.4" r="6.4"/>
<circle cx="1319.7" cy="830.4" r="6.4"/>
<circle cx="1330.9" cy="824.6" r="6.4"/>
<circle cx="1342.1" cy="800.4" r="6.4"/>
<circle cx="1353.3" cy="817.1" r="6.4"/>
<circle cx="1364.5" cy="792.1" r="6.4"/>
<circle cx="1375.7" cy="772.1" r="6.4"/>
<circle cx="1386.9" cy="770.0" r="6.4"/>
<circle cx="1398.1" cy="750.4" r="6.4"/>
<circle cx="1409.3" cy="762.9" r="6.4"/>
<circle cx="1420.4" cy="735.4" r="6.4"/>
<circle cx="1431.6" cy="725.7" r="6.4"/>
<circle cx="1442.8" cy="722.4" r="6.4"/>
<circle cx="1454.0" cy="725.0" r="6.4"/>
<circle cx="1465.2" cy="705.3" r="6.4"/>
<circle cx="1476.4" cy="716.4" r="6.4"/>
<circle cx="1487.6" cy="727.4" r="6.4"/>
<circle cx="1498.8" cy="738.6" r="6.4"/>
<circle cx="1510.0" cy="746.8" r="6.4"/>
<circle cx="1521.2" cy="765.5" r="6.4"/>
<circle cx="1532.3" cy="785.4" r="6.4"/>
<circle cx="1543.5" cy="794.5" r="6.4"/>
<circle cx="1554.7" cy="834.5" r="6.4"/>
<circle cx="1565.9" cy="852.5" r="6.4"/>
<circle cx="1577.1" cy="866.4" r="6.4"/>
<circle cx="1588.3" cy="889.6" r="6.4"/>
<circle cx="1599.5" cy="895.4" r="6.4"/>
<circle cx="1610.7" cy="909.3" r="6.4"/>
<circle cx="1621.9" cy="914.3" r="6.4"/>
<circle cx="1633.1" cy="921.3" r="6.4"/>
<circle cx="1644.2" cy="934.3" r="6.4"/>
<circle cx="1655.4" cy="948.6" r="6.4"/>
<circle cx="1666.6" cy="952.3" r="6.4"/>
<circle cx="1677.8" cy="952.3" r="6.4"/>
<circle cx="1689.0" cy="968.0" r="6.4"/>
<circle cx="1700.2" cy="961.0" r="6.4"/>
<circle cx="1711.4" cy="960.5" r="6.4"/>
<circle cx="1722.6" cy="960.5" r="6.4"/>
<circle cx="1733.8" cy="962.0" r="6.4"/>
<circle cx="1745.0" cy="962.8" r="6.4"/>
<circle cx="1756.1" cy="961.3" r="6.4"/>
<circle cx="1767.3" cy="964.0" r="6.4"/>
<circle cx="1778.5" cy="956.3" r="6.4"/>
<circle cx="1789.7" cy="966.5" r="6.4"/>
<circle cx="1800.9" cy="963.8" r="6.4"/>
<circle cx="1812.1" cy="964.3" r="6.4"/>
<circle cx="1823.3" cy="972.8" r="6.4"/>
<circle cx="1834.5" cy="965.2" r="6.4"/>
<circle cx="1845.7" cy="971.2" r="6.4"/>
<circle cx="1856.9" cy="967.4" r="6.4"/>
<circle cx="1868.0" cy="961.3" r="6.4"/>
<circle cx="1879.2" cy="964.3" r="6.4"/>
<circle cx="1890.4" cy="967.4" r="6.4"/>
<circle cx="1901.6" cy="969.4" r="6.4"/>
<circle cx="1912.8" cy="964.3" r="6.4"/>
<circle cx="1924.0" cy="966.5" r="6.4"/>
<circle cx="1935.2" cy="964.3" r="6.4"/>
<circle cx="1946.4" cy="960.2" r="6.4"/>
<circle cx="1957.6" cy="958.9" r="6.4"/>
<circle cx="1968.8" cy="964.3" r="6.4"/>
<circle cx="1979.9" cy="965.8" r="6.4"/>
<circle cx="1991.1" cy="968.3" r="6.4"/>
<circle cx="2002.3" cy="967.4" r="6.4"/>
<circle cx="2013.5" cy="964.9" r="6.4"/>
<circle cx="2024.7" cy="961.3" r="6.4"/>
<circle cx="2035.9" cy="953.5" r="6.4"/>
<circle cx="2047.1" cy="962.2" r="6.4"/>
<circle cx="2058.3" cy="967.6" r="6.4"/>
<circle cx="2069.5" cy="964.3" r="6.4"/>
<circle cx="2080.7" cy="965.8" r="6.4"/>
<circle cx="2091.8" cy="968.0" r="6.4"/>
<circle cx="2103.0" cy="959.4" r="6.4"/>
<circle cx="2114.2" cy="961.1" r="6.4"/>
<circle cx="2125.4" cy="957.5" r="6.4"/>
<circle cx="2136.6" cy="969.2" r="6.4"/>
<circle cx="2147.8" cy="970.3" r="6.4"/>
</g>
<g fill="#0000ff">
<circle cx="133.6" cy="750.5" r="6.4"/>
<circle cx="144.8" cy="742.9" r="6.4"/>
<circle cx="156.0" cy="744.2" r="6.4"/>
<circle cx="167.2" cy="749.1" r="6.4"/>
<circle cx="178.4" cy="754.3" r="6.4"/>
<circle cx="189.5" cy="750.9" r="6.4"/>
<circle cx="200.7" cy="752.0" r="6.4"/>
<circle cx="211.9" cy="750.5" r="6.4"/>
<circle cx="223.1" cy="751.4" r="6.4"/>
<circle cx="234.3" cy="751.8" r="6.4"/>
<circle cx="245.5" cy="738.1" r="6.4"/>
<circle cx="256.7" cy="750.5" r="6.4"/>
<circle cx="267.9" cy="753.7" r="6.4"/>
<circle cx="279.1" cy="755.2" r="6.4"/>
<circle cx="290.3" cy="753.9" r="6.4"/>
<circle cx="301.4" cy="745.7" r="6.4"/>
<circle cx="312.6" cy="753.3" r="6.4"/>
<circle cx="323.8" cy="755.2" r="6.4"/>
<circle cx="335.0" cy="747.0" r="6.4"/>
<circle cx="346.2" cy="756.6" r="6.4"/>
<circle cx="357.4" cy="751.4" r="6.4"/>
<circle cx="368.6" cy="748.6" r="6.4"/>
<circle cx="379.8" cy="754.3" r="6.4"/>
<circle cx="391.0" cy="747.0" r="6.4"/>
<circle cx="402.2" cy="749.1" r="6.4"/>
<circle cx="413.4" cy="751.4" r="6.4"/>
<circle cx="424.5" cy="758.1" r="6.4"/>
<circle cx="435.7" cy="755.6" r="6.4"/>
<circle cx="446.9" cy="754.3" r="6.4"/>
<circle cx="458.1" cy="758.5" r="6.4"/>
<circle cx="469.3" cy="749.0" r="6.4"/>
<circle cx="480.5" cy="755.2" r="6.4"/>
<circle cx="491.7" cy="755.2" r="6.4"/>
<circle cx="502.9" cy="751.4" r="6.4"/>
<circle cx="514.1" cy="758.1" r="6.4"/>
<circle cx="525.2" cy="758.5" r="6.4"/>
<circle cx="536.4" cy="757.1" r="6.4"/>
<circle cx="547.6" cy="757.1" r="6.4"/>
<circle cx="558.8" cy="765.3" r="6.4"/>
<circle cx="570.0" cy="755.2" r="6.4"/>
<circle cx="581.2" cy="755.8" r="6.4"/>
<circle cx="592.4" cy="760.4" r="6.4"/>
<circle cx="603.6" cy="764.2" r="6.4"/>
<circle cx="614.8" cy="760.0" r="6.4"/>
<circle cx="626.0" cy="758.5" r="6.4"/>
<circle cx="637.1" cy="758.7" r="6.4"/>
<circle cx="648.3" cy="757.1" r="6.4"/>
<circle cx="659.5" cy="758.7" r="6.4"/>
<circle cx="670.7" cy="756.2" r="6.4"/>
<circle cx="681.9" cy="766.7" r="6.4"/>
<circle cx="693.1" cy="761.0" r="6.4"/>
<circle cx="704.3" cy="762.5" r="6.4"/>
<circle cx="715.5" cy="764.4" r="6.4"/>
<circle cx="726.7" cy="761.3" r="6.4"/>
<circle cx="737.9" cy="760.4" r="6.4"/>
<circle cx="749.0" cy="761.3" r="6.4"/>
<circle cx="760.2" cy="760.4" r="6.4"/>
<circle cx="771.4" cy="761.3" r="6.4"/>
<circle cx="782.6" cy="764.2" r="6.4"/>
<circle cx="793.8" cy="764.4" r="6.4"/>
<circle cx="805.0" cy="756.6" r="6.4"/>
<circle cx="816.2" cy="755.2" r="6.4"/>
<circle cx="827.4" cy="761.3" r="6.4"/>
<circle cx="838.6" cy="758.5" r="6.4"/>
<circle cx="849.8" cy="762.3" r="6.4"/>
<circle cx="861.0" cy="761.9" r="6.4"/>
<circle cx="872.1" cy="763.8" r="6.4"/>
<circle cx="883.3" cy="765.7" r="6.4"/>
<circle cx="894.5" cy="757.9" r="6.4"/>
<circle cx="905.7" cy="749.5" r="6.4"/>
<circle cx="916.9" cy="748.2" r="6.4"/>
<circle cx="928.1" cy="751.8" r="6.4"/>
<circle cx="939.3" cy="751.8" r="6.4"/>
<circle cx="950.5" cy="746.7" r="6.4"/>
<circle cx="961.7" cy="747.2" r="6.4"/>
<circle cx="972.9" cy="742.3" r="6.4"/>
<circle cx="984.0" cy="746.3" r="6.4"/>
<circle cx="995.2" cy="745.3" r="6.4"/>
<circle cx="1006.4" cy="740.0" r="6.4"/>
<circle cx="1017.6" cy="748.2" r="6.4"/>
<circle cx="1028.8" cy="729.9" r="6.4"/>
<circle cx="1040.0" cy="738.5" r="6.4"/>
<circle cx="1051.2" cy="730.5" r="6.4"/>
<circle cx="1062.4" cy="728.2" r="6.4"/>
<circle cx="1073.6" cy="738.7" r="6.4"/>
<circle cx="1084.8" cy="733.3" r="6.4"/>
<circle cx="1095.9" cy="723.4" r="6.4"/>
<circle cx="1107.1" cy="734.9" r="6.4"/>
<circle cx="1118.3" cy="734.3" r="6.4"/>
<circle cx="1129.5" cy="737.1" r="6.4"/>
<circle cx="1140.7" cy="734.3" r="6.4"/>
<circle cx="1151.9" cy="736.2" r="6.4"/>
<circle cx="1163.1" cy="733.3" r="6.4"/>
<circle cx="1174.3" cy="730.1" r="6.4"/>
<circle cx="1185.5" cy="733.3" r="6.4"/>
<circle cx="1196.6" cy="725.3" r="6.4"/>
<circle cx="1207.8" cy="726.7" r="6.4"/>
<circle cx="1219.0" cy="724.8" r="6.4"/>
<circle cx="1230.2" cy="721.5" r="6.4"/>
<circle cx="1241.4" cy="721.3" r="6.4"/>
<circle cx="1252.6" cy="714.3" r="6.4"/>
<circle cx="1263.8" cy="710.5" r="6.4"/>
<circle cx="1275.0" cy="702.8" r="6.4"/>
<circle cx="1286.2" cy="690.3" r="6.4"/>
<circle cx="1297.4" cy="687.3" r="6.4"/>
<circle cx="1308.5" cy="684.2" r="6.4"/>
<circle cx="1319.7" cy="655.1" r="6.4"/>
<circle cx="1330.9" cy="645.4" r="6.4"/>
<circle cx="1342.1" cy="633.8" r="6.4"/>
<circle cx="1353.3" cy="616.8" r="6.4"/>
<circle cx="1364.5" cy="575.3" r="6.4"/>
<circle cx="1375.7" cy="546.3" r="6.4"/>
<circle cx="1386.9" cy="502.6" r="6.4"/>
<circle cx="1398.1" cy="473.0" r="6.4"/>
<circle cx="1409.3" cy="435.3" r="6.4"/>
<circle cx="1420.4" cy="395.5" r="6.4"/>
<circle cx="1431.6" cy="357.5" r="6.4"/>
<circle cx="1442.8" cy="315.4" r="6.4"/>
<circle cx="1454.0" cy="289.7" r="6.4"/>
<circle cx="1465.2" cy="285.6" r="6.4"/>
<circle cx="1476.4" cy="295.2" r="6.4"/>
<circle cx="1487.6" cy="263.5" r="6.4"/>
<circle cx="1498.8" cy="285.9" r="6.4"/>
<circle cx="1510.0" cy="308.4" r="6.4"/>
<circle cx="1521.2" cy="339.5" r="6.4"/>
<circle cx="1532.3" cy="354.5" r="6.4"/>
<circle cx="1543.5" cy="403.9" r="6.4"/>
<circle cx="1554.7" cy="436.4" r="6.4"/>
<circle cx="1565.9" cy="478.5" r="6.4"/>
<circle cx="1577.1" cy="516.1" r="6.4"/>
<circle cx="1588.3" cy="565.4" r="6.4"/>
<circle cx="1599.5" cy="599.4" r="6.4"/>
<circle cx="1610.7" cy="608.0" r="6.4"/>
<circle cx="1621.9" cy="653.4" r="6.4"/>
<circle cx="1633.1" cy="660.9" r="6.4"/>
<circle cx="1644.2" cy="695.4" r="6.4"/>
<circle cx="1655.4" cy="706.1" r="6.4"/>
<circle cx="1666.6" cy="714.2" r="6.4"/>
<circle cx="1677.8" cy="732.9" r="6.4"/>
<circle cx="1689.0" cy="741.2" r="6.4"/>
<circle cx="1700.2" cy="739.4" r="6.4"/>
<circle cx="1711.4" cy="747.6" r="6.4"/>
<circle cx="1722.6" cy="748.1" r="6.4"/>
<circle cx="1733.8" cy="749.3" r="6.4"/>
<circle cx="1745.0" cy="750.5" r="6.4"/>
<circle cx="1756.1" cy="758.4" r="6.4"/>
<circle cx="1767.3" cy="762.0" r="6.4"/>
<circle cx="1778.5" cy="761.4" r="6.4"/>
<circle cx="1789.7" cy="763.4" r="6.4"/>
<circle cx="1800.9" cy="766.4" r="6.4"/>
<circle cx="1812.1" cy="762.0" r="6.4"/>
<circle cx="1823.3" cy="762.0" r="6.4"/>
<circle cx="1834.5" cy="765.0" r="6.4"/>
<circle cx="1845.7" cy="759.6" r="6.4"/>
<circle cx="1856.9" cy="767.0" r="6.4"/>
<circle cx="1868.0" cy="769.4" r="6.4"/>
<circle cx="1879.2" cy="762.6" r="6.4"/>
<circle cx="1890.4" cy="763.4" r="6.4"/>
<circle cx="1901.6" cy="765.6" r="6.4"/>
<circle cx="1912.8" cy="762.4" r="6.4"/>
<circle cx="1924.0" cy="769.0" r="6.4"/>
<circle cx="1935.2" cy="769.0" r="6.4"/>
<circle cx="1946.4" cy="761.0" r="6.4"/>
<circle cx="1957.6" cy="768.0" r="6.4"/>
<circle cx="1968.8" cy="771.4" r="6.4"/>
<circle cx="1979.9" cy="765.6" r="6.4"/>
<circle cx="1991.1" cy="769.4" r="6.4"/>
<circle cx="2002.3" cy="772.4" r="6.4"/>
<circle cx="2013.5" cy="766.0" r="6.4"/>
<circle cx="2024.7" cy="772.4" r="6.4"/>
<circle cx="2035.9" cy="764.4" r="6.4"/>
<circle cx="2047.1" cy="767.0" r="6.4"/>
<circle cx="2058.3" cy="773.0" r="6.4"/>
<circle cx="2069.5" cy="773.6" r="6.4"/>
<circle cx="2080.7" cy="767.4" r="6.4"/>
<circle cx="2091.8" cy="769.6" r="6.4"/>
<circle cx="2103.0" cy="768.0" r="6.4"/>
<circle cx="2114.2" cy="771.4" r="6.4"/>
<circle cx="2125.4" cy="765.6" r="6.4"/>
<circle cx="2136.6" cy="771.0" r="6.4"/>
<circle cx="2147.8" cy="767.0" r="6.4"/>
</g>
</g>
<rect x="1715" y="76" width="407" height="317" fill="#ffffff" stroke="#000" stroke-width="2"/>
<g font-family="'Liberation Sans', Arial, sans-serif" font-size="50.8" fill="#000">
<circle cx="1783.8" cy="110.5" r="6.4" fill="#000000" shape-rendering="geometricPrecision"/>
<text transform="translate(1855,128.0) scale(1,1)">sized GF</text>
<circle cx="1783.8" cy="173.2" r="6.4" fill="#ff0000" shape-rendering="geometricPrecision"/>
<text transform="translate(1855,190.9) scale(1,1)">desized GF</text>
<circle cx="1783.8" cy="235.9" r="6.4" fill="#0000ff" shape-rendering="geometricPrecision"/>
<text transform="translate(1855,253.8) scale(1,1.04)">VTES-GF</text>
<circle cx="1783.8" cy="298.6" r="6.4" fill="#00ff00" shape-rendering="geometricPrecision"/>
<text transform="translate(1855,316.7) scale(1,1.04)">APTES-GF</text>
<circle cx="1783.8" cy="361.3" r="6.4" fill="#00ffff" shape-rendering="geometricPrecision"/>
<text transform="translate(1855,379.6) scale(1,1.04)">FOTES-GF</text>
</g>
</svg>
</body></html>
